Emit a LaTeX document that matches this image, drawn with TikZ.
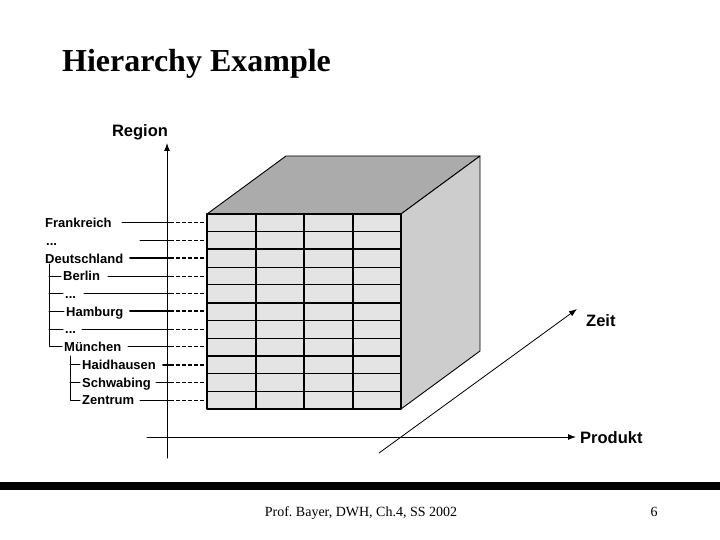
\documentclass[tikz,border=0pt]{standalone}
\usepackage{fontspec}
\setmainfont{Liberation Serif}
\newfontfamily\labelfont{Liberation Sans}
\usetikzlibrary{arrows.meta}

\definecolor{frontgray}{HTML}{E4E4E4}
\definecolor{topgray}{HTML}{ABABAB}
\definecolor{sidegray}{HTML}{CDCDCD}
\newcommand{\rowdots}{...}
\frenchspacing

\begin{document}
\begin{tikzpicture}[line cap=round, line join=round, x=1pt, y=-1pt,
    axislabel/.style={font=\labelfont\bfseries\fontsize{16.5}{18}\selectfont, inner sep=0pt},
    member/.style={font=\labelfont\bfseries\fontsize{13}{15}\selectfont, inner sep=0pt, anchor=base west},
    axisline/.style={line width=1pt, -{Latex[length=8pt,width=6pt]}},
    gridthin/.style={line width=0.9pt},
    gridthick/.style={line width=2pt}]
                \useasboundingbox (0,0) rectangle (720,540);
                % title and footer
                \node[anchor=base west, inner sep=0pt, font=\bfseries\fontsize{32}{36}\selectfont] (title) at (62,72) {Hierarchy Example};
                \fill (0,482) rectangle (720,490);
                \node[anchor=base, inner sep=0pt, font=\fontsize{14}{16}\selectfont] (foot) at (361,516) {Prof. Bayer, DWH, Ch.4, SS 2002};
                \node[anchor=base, inner sep=0pt, font=\fontsize{14}{16}\selectfont] (page) at (654,516) {6};
                % cube
                \coordinate (f1) at (207,214);
                \coordinate (f2) at (401,214);
                \coordinate (f3) at (401,409);
                \coordinate (f4) at (207,409);
                \coordinate (b1) at (286,156);
                \coordinate (b2) at (480,156);
                \coordinate (b3) at (480,351);
                \filldraw[fill=topgray, line width=0.9pt] (f1) -- (b1) -- (b2) -- (f2) -- cycle;
                \filldraw[fill=sidegray, line width=0.9pt] (f2) -- (b2) -- (b3) -- (f3) -- cycle;
                \fill[frontgray] (f1) rectangle (f3);
                \foreach \i in {1,...,10}
                    \draw[gridthin] (207,214+17.727*\i) -- ++(194,0);
                \foreach \i in {2,5,8}
                    \draw[gridthick] (207,214+17.727*\i) -- ++(194,0);
                \foreach \j in {1,2,3}
                    \draw[gridthick] (207+48.5*\j,214) -- ++(0,195);
                \draw[gridthick] (f1) rectangle (f3);
                % axes
                \coordinate (o1) at (167,458);
                \coordinate (o2) at (147,437);
                \coordinate (o3) at (379,453);
                \coordinate (regtip) at (167,143);
                \coordinate (prodtip) at (576,437);
                \coordinate (zeittip) at (577,309);
                \draw[axisline] (o1) -- (regtip);
                \draw[axisline] (o2) -- (prodtip);
                \draw[axisline, line width=0.8pt] (o3) -- (zeittip);
                \node[axislabel] (region) at (140,132) {Region};
                \node[axislabel, anchor=west] (produkt) at (580,438) {Produkt};
                \node[axislabel, anchor=west] (zeit) at (586,321) {Zeit};
                % hierarchy members and leader lines
                \foreach \i/\txt/\lx/\sx/\lw in {0/Frankreich/45/122/1pt, 1/\rowdots/46/140/1pt,
                        2/Deutschland/45/130/2pt, 3/Berlin/63/108/1pt, 4/\rowdots/65/84/1pt,
                        5/Hamburg/66/130/2pt, 6/\rowdots/65/82/1pt, 7/München/64/128/1pt,
                        8/Haidhausen/82/163/2pt, 9/Schwabing/82/156/1pt, 10/Zentrum/82/140/1pt}{
                    \pgfmathsetmacro\yc{222.86+17.727*\i}
                    \node[member] (r\i) at (\lx,\yc+4.7) {\txt};
                    \coordinate (m\i) at (\lx-2,\yc);
                    \coordinate (s\i) at (\sx,\yc);
                    \coordinate (a\i) at (170,\yc);
                    \coordinate (c\i) at (207,\yc);
                    \draw[line width=\lw] (s\i) -- (a\i);
                    \draw[line width=\lw, line cap=butt, dash pattern=on 4pt off 2pt] (a\i) -- (c\i);
                }
                % tree
                \coordinate (t1) at (49,264);
                \coordinate (t2) at (70,356);
                \draw[line width=1pt] (t1) |- (m7);
                \foreach \k in {3,4,5,6}
                    \draw[line width=1pt] (t1 |- m\k) -- (m\k);
                \draw[line width=1pt] (t2) |- (m10);
                \foreach \k in {8,9}
                    \draw[line width=1pt] (t2 |- m\k) -- (m\k);
            \end{tikzpicture}
\end{document}
